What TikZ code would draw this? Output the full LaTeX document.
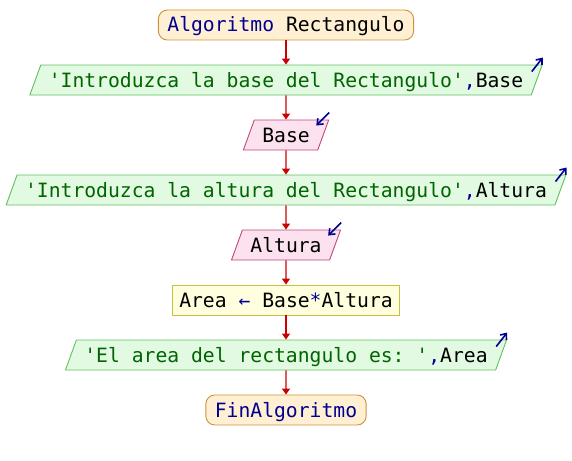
\documentclass[tikz,border=0pt]{standalone}
\usepackage{fontspec}
\setmonofont{DejaVu Sans Mono}
\usepackage{tikz}
\usetikzlibrary{arrows.meta}
\usetikzlibrary{shapes.geometric}

\definecolor{rojoflecha}{HTML}{CC0000}
\definecolor{azulclave}{HTML}{000090}
\definecolor{verdecadena}{HTML}{006400}
\definecolor{fondoterm}{HTML}{FFF0D4}
\definecolor{bordeterm}{HTML}{D0903A}
\definecolor{fondoescr}{HTML}{E2FAE2}
\definecolor{bordeescr}{HTML}{60C060}
\definecolor{fondoleer}{HTML}{FCE2EE}
\definecolor{bordeleer}{HTML}{C04878}
\definecolor{fondoproc}{HTML}{FFFFE0}
\definecolor{bordeproc}{HTML}{C8C040}

\begin{document}
\begin{tikzpicture}[x=1pt, y=-1pt,
    every node/.style={font=\ttfamily\fontsize{19.7}{22}\selectfont, text height=17pt, text depth=3pt, inner ysep=5pt, line width=0.9pt},
    terminal/.style={draw=bordeterm, fill=fondoterm, rounded corners=9pt, inner xsep=9pt},
    escribir/.style={trapezium, trapezium left angle=70, trapezium right angle=110, draw=bordeescr, fill=fondoescr, inner xsep=8pt},
    leer/.style={trapezium, trapezium left angle=70, trapezium right angle=110, draw=bordeleer, fill=fondoleer, inner xsep=8pt},
    proceso/.style={draw=bordeproc, fill=fondoproc, inner xsep=7pt},
    flujo/.style={draw=rojoflecha, line width=1.3pt, -{Triangle[width=8pt, length=6pt]}},
    icono/.style={draw=azulclave, line width=1.6pt, -{Straight Barb[length=5pt, width=8pt]}}]
    \useasboundingbox (0, 0) rectangle (572, 460);

    \node (inicio) [terminal, at={(286, 25)}] {\textcolor{azulclave}{Algoritmo} Rectangulo};
    \node (escribe-base) [escribir, at={(286, 80)}] {\textcolor{verdecadena}{'Introduzca la base del Rectangulo'}\textcolor{azulclave}{,}Base};
    \node (lee-base) [leer, at={(286, 135)}] {Base};
    \node (escribe-altura) [escribir, at={(286, 190)}] {\textcolor{verdecadena}{'Introduzca la altura del Rectangulo'}\textcolor{azulclave}{,}Altura};
    \node (lee-altura) [leer, at={(286, 245)}] {Altura};
    \node (calcula-area) [proceso, at={(286, 300)}] {Area \textcolor{azulclave}{←} Base\textcolor{azulclave}{*}Altura};
    \node (escribe-area) [escribir, at={(286, 355)}] {\textcolor{verdecadena}{'El area del rectangulo es: '}\textcolor{azulclave}{,}Area};
    \node (fin) [terminal, at={(286, 410)}] {\textcolor{azulclave}{FinAlgoritmo}};

    \draw [flujo] (inicio) -- (escribe-base);
    \draw [flujo] (escribe-base) -- (lee-base);
    \draw [flujo] (lee-base) -- (escribe-altura);
    \draw [flujo] (escribe-altura) -- (lee-altura);
    \draw [flujo] (lee-altura) -- (calcula-area);
    \draw [flujo] (calcula-area) -- (escribe-area);
    \draw [flujo] (escribe-area) -- (fin);

    % marcas de entrada / salida
    \draw [icono] ([shift={(-11, 7)}]escribe-base.top right corner) -- ([shift={(0, -7)}]escribe-base.top right corner);
    \draw [icono] ([shift={(0, -7)}]lee-base.top right corner) -- ([shift={(-13, 6)}]lee-base.top right corner);
    \draw [icono] ([shift={(-11, 7)}]escribe-altura.top right corner) -- ([shift={(0, -7)}]escribe-altura.top right corner);
    \draw [icono] ([shift={(0, -7)}]lee-altura.top right corner) -- ([shift={(-13, 6)}]lee-altura.top right corner);
    \draw [icono] ([shift={(-11, 7)}]escribe-area.top right corner) -- ([shift={(0, -7)}]escribe-area.top right corner);
\end{tikzpicture}
\end{document}
